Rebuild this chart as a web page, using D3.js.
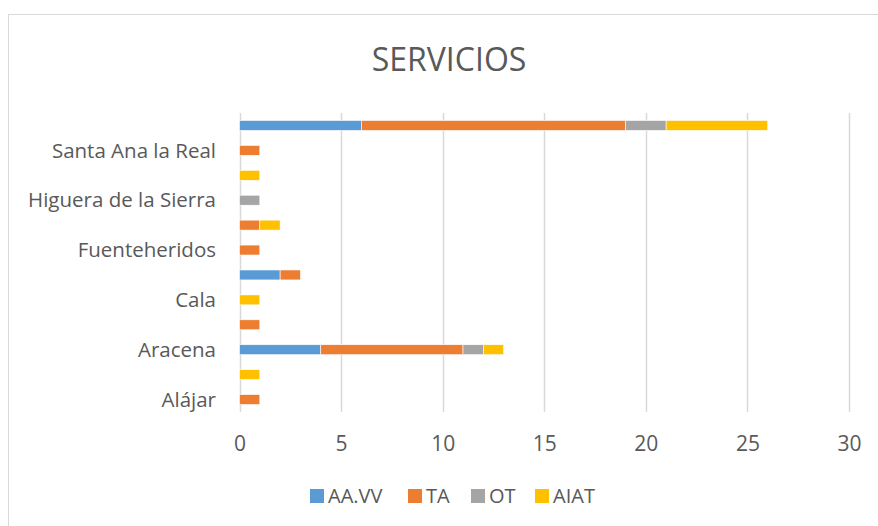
<!DOCTYPE html>
<html>
<head>
<meta charset="utf-8">
<script src="https://cdn.jsdelivr.net/npm/d3@7"></script>
<style>
  body { margin: 0; background: #fff; }
  text { font-family: 'Open Sans', sans-serif; fill: #595959; }
</style>
</head>
<body>
<div id="chart"></div>
<script>
'use strict';

// categorias (de abajo a arriba); Excel solo muestra una de cada dos
const municipios = ['Alájar', 'Almonaster la Real', 'Aracena', 'Aroche', 'Cala', 'Cortegana',
  'Fuenteheridos', 'Galaroza', 'Higuera de la Sierra', 'Jabugo', 'Santa Ana la Real', 'Total'];

const series = ['AA.VV', 'TA', 'OT', 'AIAT'];
const colores = ['#5b9bd5', '#ed7d31', '#a5a5a5', '#ffc000'];

const aavv = [0, 0, 4, 0, 0, 2, 0, 0, 0, 0, 0, 6];
const ta   = [1, 0, 7, 1, 0, 1, 1, 1, 0, 0, 1, 13];
const ot   = [0, 0, 1, 0, 0, 0, 0, 0, 1, 0, 0, 2];
const aiat = [0, 1, 1, 0, 1, 0, 0, 1, 0, 1, 0, 5];

const ticksX = [0, 5, 10, 15, 20, 25, 30];

drawChart('#chart');

function drawChart(el) {
  const width = 878;
  const height = 526;
  const margin = { top: 113, left: 239, right: 29, bottom: 114 };

  const svg = d3.select(el)
    .append('svg')
    .attr('width', width)
    .attr('height', height);

  // marco del grafico
  svg.append('rect')
    .attr('x', 8.5)
    .attr('y', 14.5)
    .attr('width', 880)
    .attr('height', 530)
    .attr('fill', 'none')
    .attr('stroke', '#d9d9d9');

  svg.append('text')
    .attr('x', 449)
    .attr('y', 71)
    .attr('text-anchor', 'middle')
    .style('font-size', '32px')
    .text('SERVICIOS');

  const rows = municipios.map((m, i) => ({
    municipio: m, 'AA.VV': aavv[i], TA: ta[i], OT: ot[i], AIAT: aiat[i]
  }));
  const stack = d3.stack().keys(series)(rows);

  const scaleX = d3.scaleLinear()
    .domain([0, 30])
    .range([margin.left + 0.5, width - margin.right]);

  const scaleY = d3.scaleBand()
    .domain(municipios.slice().reverse())
    .range([margin.top, height - margin.bottom])
    .paddingInner(0.6)
    .paddingOuter(0.3);

  // lineas de cuadricula
  svg.append('g')
    .selectAll('line')
    .data(ticksX)
    .enter()
    .append('line')
    .attr('x1', d => Math.round(scaleX(d)) + 0.5)
    .attr('x2', d => Math.round(scaleX(d)) + 0.5)
    .attr('y1', margin.top)
    .attr('y2', height - margin.bottom)
    .attr('stroke', '#d9d9d9')
    .attr('stroke-width', 1.5);

  svg.append('g')
    .selectAll('g')
    .data(stack)
    .enter()
    .append('g')
    .attr('fill', (d, i) => colores[i])
    .selectAll('rect')
    .data(d => d.filter(p => p[1] > p[0]))
    .enter()
    .append('rect')
    .attr('x', d => scaleX(d[0]))
    .attr('y', d => scaleY(d.data.municipio))
    .attr('width', d => scaleX(d[1]) - scaleX(d[0]))
    .attr('height', scaleY.bandwidth())
    .attr('stroke', '#fff')
    .attr('stroke-width', 0.6);

  // eje X
  const xAxis = d3.axisBottom(scaleX).tickValues(ticksX).tickSize(0).tickPadding(0);
  const gx = svg.append('g')
    .attr('transform', `translate(0, ${height - margin.bottom})`)
    .call(xAxis);
  gx.select('.domain').remove();
  gx.selectAll('text')
    .attr('dy', null)
    .attr('y', 39)
    .style('font-size', '21px')
    .style('fill', '#595959')
    .style('font-family', "'Open Sans', sans-serif");

  // eje Y: solo una etiqueta de cada dos
  const yAxis = d3.axisLeft(scaleY)
    .tickValues(municipios.filter((m, i) => i % 2 === 0))
    .tickSize(0)
    .tickPadding(23);
  const gy = svg.append('g')
    .attr('transform', `translate(${margin.left}, 0)`)
    .call(yAxis);
  gy.select('.domain').remove();
  gy.selectAll('text')
    .attr('dy', '0.35em')
    .style('font-size', '20.5px')
    .style('fill', '#595959')
    .style('font-family', "'Open Sans', sans-serif");

  // leyenda
  const legendX = [310, 408, 471, 535];
  const legend = svg.append('g')
    .selectAll('g')
    .data(series)
    .enter()
    .append('g')
    .attr('transform', (d, i) => `translate(${legendX[i]}, 489)`);
  legend.append('rect')
    .attr('width', 14)
    .attr('height', 14)
    .attr('fill', (d, i) => colores[i]);
  legend.append('text')
    .attr('x', 18)
    .attr('y', 14)
    .style('font-size', '20px')
    .text(d => d);
}
</script>
</body>
</html>
